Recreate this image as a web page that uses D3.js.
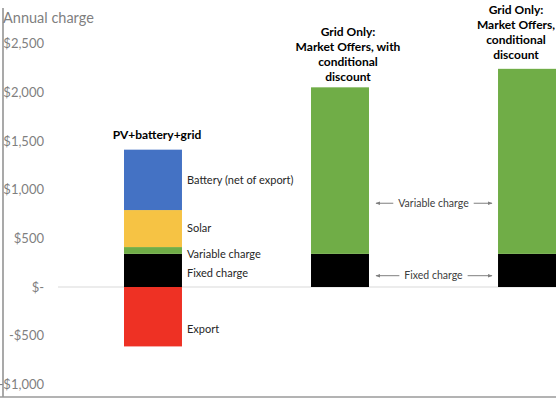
<!DOCTYPE html>
<html>
<head>
<meta charset="utf-8">
<script src="https://cdn.jsdelivr.net/npm/d3@7.9.0/dist/d3.min.js"></script>
<style>
  html, body { margin: 0; padding: 0; background: #fff; }
  svg { display: block; font-family: Lato, 'Liberation Sans', sans-serif; }
</style>
</head>
<body>
<svg id="chart" width="556" height="400"></svg>
<script>
// --- data ---
const categories = ['PV+battery+grid', 'Grid Only: with discount', 'Grid Only: conditional'];
const fixedCharge = [340, 340, 340];
const variableCharge = [70, 1710, 1900];
const solar = [380, 0, 0];
const battery = [620, 0, 0];
const exportCredit = [-610, 0, 0];
const yTicks = [2500, 2000, 1500, 1000, 500, 0, -500, -1000];
const barTitles = [
  ['PV+battery+grid'],
  ['Grid Only:', 'Market Offers, with', 'conditional', 'discount'],
  ['Grid Only:', 'Market Offers,', 'conditional', 'discount']
];
const segmentKeys = ['fixed', 'variable', 'solar', 'battery', 'export'];
const segmentNames = ['Fixed charge', 'Variable charge', 'Solar', 'Battery (net of export)', 'Export'];
const midNotes = ['Variable charge', 'Fixed charge'];
const midNoteValues = [860, 116];

const colors = d3.scaleOrdinal()
  .domain(segmentKeys)
  .range(['#000000', '#70ad47', '#f6c344', '#4472c4', '#ee3124']);

const rows = categories.map((c, i) => ({
  cat: c,
  fixed: fixedCharge[i],
  variable: variableCharge[i],
  solar: solar[i],
  battery: battery[i],
  export: exportCredit[i]
}));

const svg = d3.select('#chart');
const y = d3.scaleLinear().domain([-1000, 2500]).range([384.4, 43.5]);
const x = d3.scaleBand().domain(categories).range([124, 556])
  .paddingInner(0.69).paddingOuter(0);

// frame lines
svg.append('line')
  .attr('x1', 3).attr('x2', 3).attr('y1', 8).attr('y2', 397)
  .attr('stroke', '#8c8c8c').attr('stroke-width', 1.5);
svg.append('line')
  .attr('x1', 0).attr('x2', 556).attr('y1', 397).attr('y2', 397)
  .attr('stroke', '#9a9a9a').attr('stroke-width', 1.5);

// zero line
svg.append('line')
  .attr('x1', 58).attr('x2', 556).attr('y1', y(0)).attr('y2', y(0))
  .attr('stroke', '#d9d9d9');

// y axis labels
const fmt = (d) => d === 0 ? '$-' : (d < 0 ? '-$' : '$') + d3.format(',')(Math.abs(d));
const yAxis = svg.append('g')
  .attr('transform', 'translate(44,0)')
  .call(d3.axisLeft(y).tickValues(yTicks).tickFormat(fmt).tickSize(0).tickPadding(0));
yAxis.select('.domain').remove();
yAxis.selectAll('text')
  .attr('fill', '#7f7f7f')
  .style('font-family', "Lato, 'Liberation Sans', sans-serif")
  .style('font-size', '13px');

svg.append('text')
  .attr('x', 3).attr('y', 23)
  .attr('fill', '#7f7f7f')
  .style('font-size', '14.5px')
  .text('Annual charge');

// stacked bars
const series = d3.stack().keys(segmentKeys).offset(d3.stackOffsetDiverging)(rows);
svg.append('g').selectAll('g')
  .data(series)
  .join('g')
  .attr('fill', (d) => colors(d.key))
  .selectAll('rect')
  .data((d) => d.filter((p) => p[1] !== p[0]))
  .join('rect')
  .attr('x', (d) => x(d.data.cat))
  .attr('width', x.bandwidth())
  .attr('y', (d) => y(Math.max(d[0], d[1])))
  .attr('height', (d) => Math.abs(y(d[0]) - y(d[1])));

// segment labels for the first bar
const labelNudge = { fixed: 3, variable: 4, solar: 0, battery: 0, export: 12 };
const first = categories[0];
svg.append('g').selectAll('text')
  .data(series)
  .join('text')
  .attr('x', x(first) + x.bandwidth() + 5)
  .attr('y', (s) => {
    const p = s[0];
    return (y(p[0]) + y(p[1])) / 2 + labelNudge[s.key];
  })
  .attr('dy', '0.35em')
  .attr('fill', '#262626')
  .style('font-size', '11px')
  .text((s, i) => segmentNames[i]);

// bar titles
const titleShift = [4, 8, -11];
const titleTop = [135, 32, 10];
categories.forEach((c, i) => {
  const t = svg.append('text')
    .attr('text-anchor', 'middle')
    .attr('fill', '#000')
    .style('font-weight', 'bold')
    .style('font-size', '12px');
  barTitles[i].forEach((line, j) => {
    t.append('tspan')
      .attr('x', x(c) + x.bandwidth() / 2 + titleShift[i])
      .attr('y', titleTop[i] + j * 15)
      .attr('dy', '0.35em')
      .text(line);
  });
});

// arrows between the grid-only bars
svg.append('defs').append('marker')
  .attr('id', 'arrow')
  .attr('viewBox', '0 0 10 10')
  .attr('refX', 9).attr('refY', 5)
  .attr('markerWidth', 5).attr('markerHeight', 5)
  .attr('orient', 'auto')
  .append('path')
  .attr('d', 'M0,1L10,5L0,9Z')
  .attr('fill', '#7f7f7f');

const leftEdge = x(categories[1]) + x.bandwidth();
const rightEdge = x(categories[2]);
const mid = (leftEdge + rightEdge) / 2;
midNotes.forEach((note, i) => {
  const yy = y(midNoteValues[i]);
  const txt = svg.append('text')
    .attr('x', mid).attr('y', yy)
    .attr('dy', '0.35em')
    .attr('text-anchor', 'middle')
    .attr('fill', '#404040')
    .style('font-size', '10.5px')
    .text(note);
  const w = txt.node().getComputedTextLength();
  svg.append('line')
    .attr('x1', mid - w / 2 - 5).attr('x2', leftEdge + 7)
    .attr('y1', yy).attr('y2', yy)
    .attr('stroke', '#7f7f7f').attr('stroke-width', 1)
    .attr('marker-end', 'url(#arrow)');
  svg.append('line')
    .attr('x1', mid + w / 2 + 5).attr('x2', rightEdge - 6)
    .attr('y1', yy).attr('y2', yy)
    .attr('stroke', '#7f7f7f').attr('stroke-width', 1)
    .attr('marker-end', 'url(#arrow)');
});
</script>
</body>
</html>
